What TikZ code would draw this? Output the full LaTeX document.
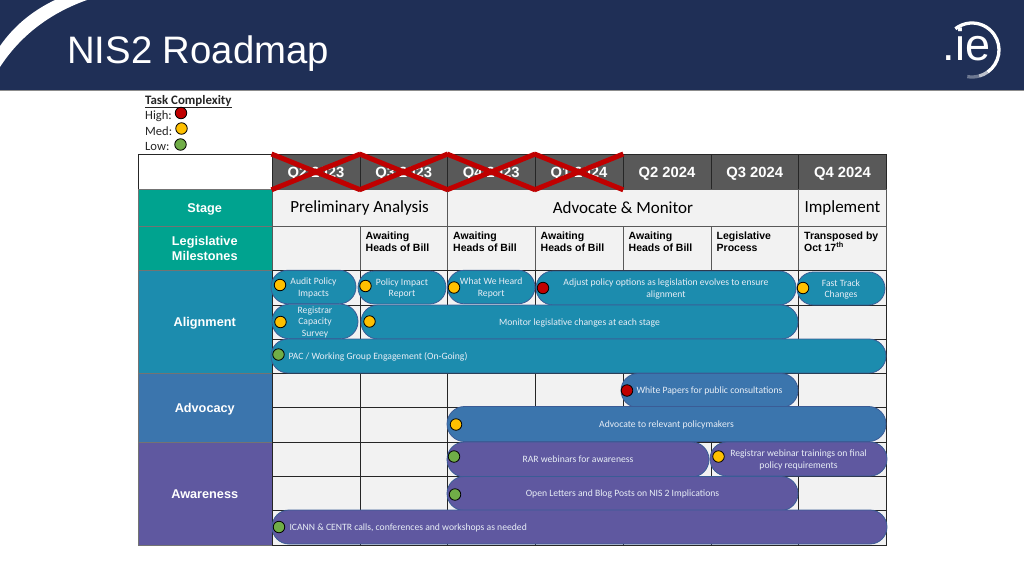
\documentclass[tikz,border=0pt]{standalone}
\usepackage{fontspec}
\setmainfont{Carlito}
\newfontfamily\arialfont{Liberation Sans}
\usetikzlibrary{shapes,positioning}

\definecolor{bannernavy}{HTML}{1F2F56}
\definecolor{headgrey}{HTML}{595959}
\definecolor{cellgrey}{HTML}{F2F2F2}
\definecolor{stageteal}{HTML}{00A38F}
\definecolor{alignblue}{HTML}{1C8CAE}
\definecolor{advocblue}{HTML}{3B75AD}
\definecolor{awarepurple}{HTML}{5F58A0}
\definecolor{pillline}{HTML}{3A5C96}
\definecolor{pilltext}{HTML}{E8EEF6}
\definecolor{crossred}{HTML}{C00000}
\definecolor{dotamber}{HTML}{FFC000}
\definecolor{dotgreen}{HTML}{70AD47}

\begin{document}
\begin{tikzpicture}[
                x=1pt, y=-1pt,
                cell/.style={
                        rectangle,
                        draw=black!85,
                        line width=0.8pt,
                        fill=cellgrey,
                        anchor=north west,
                        inner sep=0pt
                    },
                headcell/.style={
                        cell,
                        fill=headgrey,
                        text=white,
                        text depth=0pt,
                        font=\arialfont\fontsize{14.8}{17}\selectfont\bfseries
                    },
                stagecell/.style={
                        cell,
                        draw=black!65,
                        font=\fontsize{17}{19}\selectfont
                    },
                mile/.style={
                        cell,
                        draw=black!65
                    },
                miletext/.style={
                        anchor=north west,
                        inner sep=0pt,
                        align=flush left,
                        font=\arialfont\fontsize{10.5}{12}\selectfont\bfseries
                    },
                sidecell/.style={
                        rectangle,
                        anchor=north west,
                        inner sep=0pt,
                        minimum width=134,
                        align=center,
                        text=white,
                        text depth=0pt,
                        draw=black!55,
                        line width=0.5pt,
                        font=\arialfont\fontsize{12.7}{15.5}\selectfont\bfseries
                    },
                pill/.style={
                        rounded rectangle,
                        draw=pillline,
                        line width=0.8pt,
                        inner sep=0pt,
                        align=center,
                        text=pilltext,
                        text depth=0pt,
                        font=\fontsize{9.65}{11.7}\selectfont
                    },
                dot/.style={
                        circle,
                        draw=black,
                        line width=0.8pt,
                        minimum size=11.5,
                        inner sep=0pt
                    },
                legendtext/.style={
                        anchor=west,
                        inner sep=0pt,
                        text=black!85,
                        font=\fontsize{12.6}{14}\selectfont
                    },
                crossline/.style={
                        draw=crossred,
                        line width=5pt
                    }
            ]
            \useasboundingbox (0,0) rectangle (1024,576);
            \fill[white] (0,0) rectangle (1024,576);

            % Banner
            \fill[bannernavy] (0,0) rectangle (1024,90);
            \fill[black!45] (0,90) rectangle (1024,91);
            \fill[white] (0,46) .. controls (14,26) and (32,11) .. (55,0) -- (87,0) .. controls (50,13) and (20,36) .. (0,67) -- cycle;
            \node[anchor=west, inner sep=0pt, text=white, font=\arialfont\fontsize{38.3}{40}\selectfont] (title) at (67,53.5) {NIS2 Roadmap};

            % Logo
            \node[inner sep=0pt, text=white, font=\arialfont\fontsize{45}{47}\selectfont] (logo) at (966.5,44.5) {.ie};
            \draw[white, line width=3.3pt] (972,50) ++(55:27) arc[start angle=55, end angle=-128, radius=27];
            \draw[white!70!bannernavy, line width=3.3pt] (972,50) ++(75:27) arc[start angle=75, end angle=55, radius=27];
            \draw[white!35!bannernavy, line width=3.3pt] (972,50) ++(100:27) arc[start angle=100, end angle=75, radius=27];

            % Legenda
            \node[legendtext, font=\fontsize{12.9}{14}\selectfont\bfseries] (legendtitle) at (145,101.5) {\underline{Task Complexity}};
            \node[legendtext] (legendhigh) at (145,116) {High:};
            \node[legendtext] (legendmed) at (145,131) {Med:};
            \node[legendtext] (legendlow) at (145,146.5) {Low:};
            \node[dot, fill=crossred] (dothigh) at (181,113) {};
            \node[dot, fill=dotamber] (dotmed) at (181.5,128.5) {};
            \node[dot, fill=dotgreen] (dotlow) at (180.5,144.5) {};

            \begin{scope}[xshift=-0.5pt, yshift=0.5pt]
            % Coluna esquerda
            \node[sidecell, draw=black!85, fill=white, minimum height=35] (corner) at (138,154.5) {};
            \node[sidecell, fill=stageteal, minimum height=37] (stage) at (138,189.5) {Stage};
            \node[sidecell, fill=stageteal, minimum height=44] (milestones) at (138,226.5) {Legislative\\Milestones};
            \node[sidecell, fill=alignblue, minimum height=103] (alignment) at (138,270.5) {Alignment};
            \node[sidecell, fill=advocblue, minimum height=69] (advocacy) at (138,373.5) {Advocacy};
            \node[sidecell, fill=awarepurple, minimum height=103] (awareness) at (138,442.5) {Awareness};

            % Trimestres
            \node[headcell, minimum width=88, minimum height=35] (qa) at (272,154.5) {Q2 2023};
            \node[headcell, minimum width=87.5, minimum height=35] (qb) at (360,154.5) {Q3 2023};
            \node[headcell, minimum width=87.5, minimum height=35] (qc) at (447.5,154.5) {Q4 2023};
            \node[headcell, minimum width=88, minimum height=35] (qd) at (535,154.5) {Q1 2024};
            \node[headcell, minimum width=88, minimum height=35] (qe) at (623,154.5) {Q2 2024};
            \node[headcell, minimum width=87.5, minimum height=35] (qf) at (711,154.5) {Q3 2024};
            \node[headcell, minimum width=88, minimum height=35] (qg) at (798.5,154.5) {Q4 2024};

            % Fases
            \node[stagecell, minimum width=175.5, minimum height=37] (analysis) at (272,189.5) {Preliminary Analysis};
            \node[stagecell, minimum width=351, minimum height=37] (monitor) at (447.5,189.5) {Advocate \& Monitor};
            \node[stagecell, minimum width=88, minimum height=37] (implement) at (798.5,189.5) {Implement};

            % Marcos legislativos
            \node[mile, minimum width=88, minimum height=44] (mileempty) at (272,226.5) {};
            \foreach \mname/\mx/\mw/\mtext in {
                    mileb/360/87.5/{Awaiting\\Heads of Bill},
                    milec/447.5/87.5/{Awaiting\\Heads of Bill},
                    miled/535/88/{Awaiting\\Heads of Bill},
                    milee/623/88/{Awaiting\\Heads of Bill},
                    milef/711/87.5/{Legislative\\Process},
                    mileg/798.5/88/{Transposed by\\Oct 17\textsuperscript{th}}} {
                    \node[mile, minimum width=\mw, minimum height=44] (\mname) at (\mx,226.5) {};
                    \node[miletext] (\mname text) at (\mx+6,232) {\mtext};
                }

            % Grelha
            \foreach \cname/\cx/\cw in {a/272/88,b/360/87.5,c/447.5/87.5,d/535/88,e/623/88,f/711/87.5,g/798.5/88} {
                    \foreach \rname/\ry/\rh in {a/270.5/34.5,b/305/34,c/339/34.5,d/373.5/34,e/407.5/35,f/442.5/34,g/476.5/34,h/510.5/34.5} {
                            \node[cell, minimum width=\cw, minimum height=\rh] (cell\cname\rname) at (\cx,\ry) {};
                        }
                }

            % Cruzes vermelhas
            \foreach \qname in {qa,qb,qc,qd} {
                    \draw[crossline] (\qname.north west) -- (\qname.south east);
                    \draw[crossline] (\qname.south west) -- (\qname.north east);
                }
            \end{scope}

            % Alignment
            \node[pill, fill=alignblue, minimum width=85, minimum height=33.5] (audit) at (313.5,287) {Audit Policy\\Impacts};
            \node[pill, fill=alignblue, minimum width=88, minimum height=33] (impact) at (402,287.5) {Policy Impact\\Report};
            \node[pill, fill=alignblue, minimum width=87.5, minimum height=33.5] (heard) at (491.2,287) {What We Heard\\Report};
            \node[pill, fill=alignblue, minimum width=260, minimum height=34] (adjust) at (666,288) {Adjust policy options as legislation evolves to ensure\\alignment};
            \node[pill, fill=alignblue, minimum width=88, minimum height=33] (fasttrack) at (841,288.5) {Fast Track\\Changes};
            \node[pill, fill=alignblue, minimum width=86, minimum height=34.5] (survey) at (315,321.5) {Registrar\\Capacity\\Survey};
            \node[pill, fill=alignblue, minimum width=437, minimum height=34] (legis) at (579.5,322) {Monitor legislative changes at each stage};
            \node[pill, fill=alignblue, minimum width=615, minimum height=34, text width=580, align=flush left] (pac) at (578.5,356) {PAC / Working Group Engagement (On-Going)};

            % Advocacy
            \node[pill, fill=advocblue, minimum width=177, minimum height=34] (papers) at (709.5,390.5) {White Papers for public consultations};
            \node[pill, fill=advocblue, minimum width=439, minimum height=35] (policymakers) at (666.5,424) {Advocate to relevant policymakers};

            % Awareness
            \node[pill, fill=awarepurple, minimum width=262, minimum height=35] (rar) at (578,459.5) {RAR webinars for awareness};
            \node[pill, fill=awarepurple, minimum width=177, minimum height=34] (trainings) at (798.5,459) {Registrar webinar trainings on final\\policy requirements};
            \node[pill, fill=awarepurple, minimum width=351, minimum height=34] (letters) at (622.5,493.5) {Open Letters and Blog Posts on NIS 2 Implications};
            \node[pill, fill=awarepurple, minimum width=615, minimum height=34, text width=580, align=flush left] (icann) at (579.5,527) {ICANN \& CENTR calls, conferences and workshops as needed};

            % Pontos de complexidade
            \node[dot, fill=dotamber] (dotaudit) at (280,285) {};
            \node[dot, fill=dotamber] (dotimpact) at (365.5,286) {};
            \node[dot, fill=dotamber] (dotheard) at (454,287.5) {};
            \node[dot, fill=crossred] (dotadjust) at (543,288) {};
            \node[dot, fill=dotamber] (dotfast) at (803,288) {};
            \node[dot, fill=dotamber] (dotsurvey) at (280.5,322) {};
            \node[dot, fill=dotamber] (dotlegis) at (369.5,321.5) {};
            \node[dot, fill=dotgreen] (dotpac) at (278.5,354.5) {};
            \node[dot, fill=crossred] (dotpapers) at (627,390.5) {};
            \node[dot, fill=dotamber] (dotadvocate) at (456,424.5) {};
            \node[dot, fill=dotgreen] (dotrar) at (454,456.5) {};
            \node[dot, fill=dotamber] (dottrainings) at (718.5,456.5) {};
            \node[dot, fill=dotgreen] (dotletters) at (455,494.5) {};
            \node[dot, fill=dotgreen] (doticann) at (279,527) {};

        \end{tikzpicture}
\end{document}
